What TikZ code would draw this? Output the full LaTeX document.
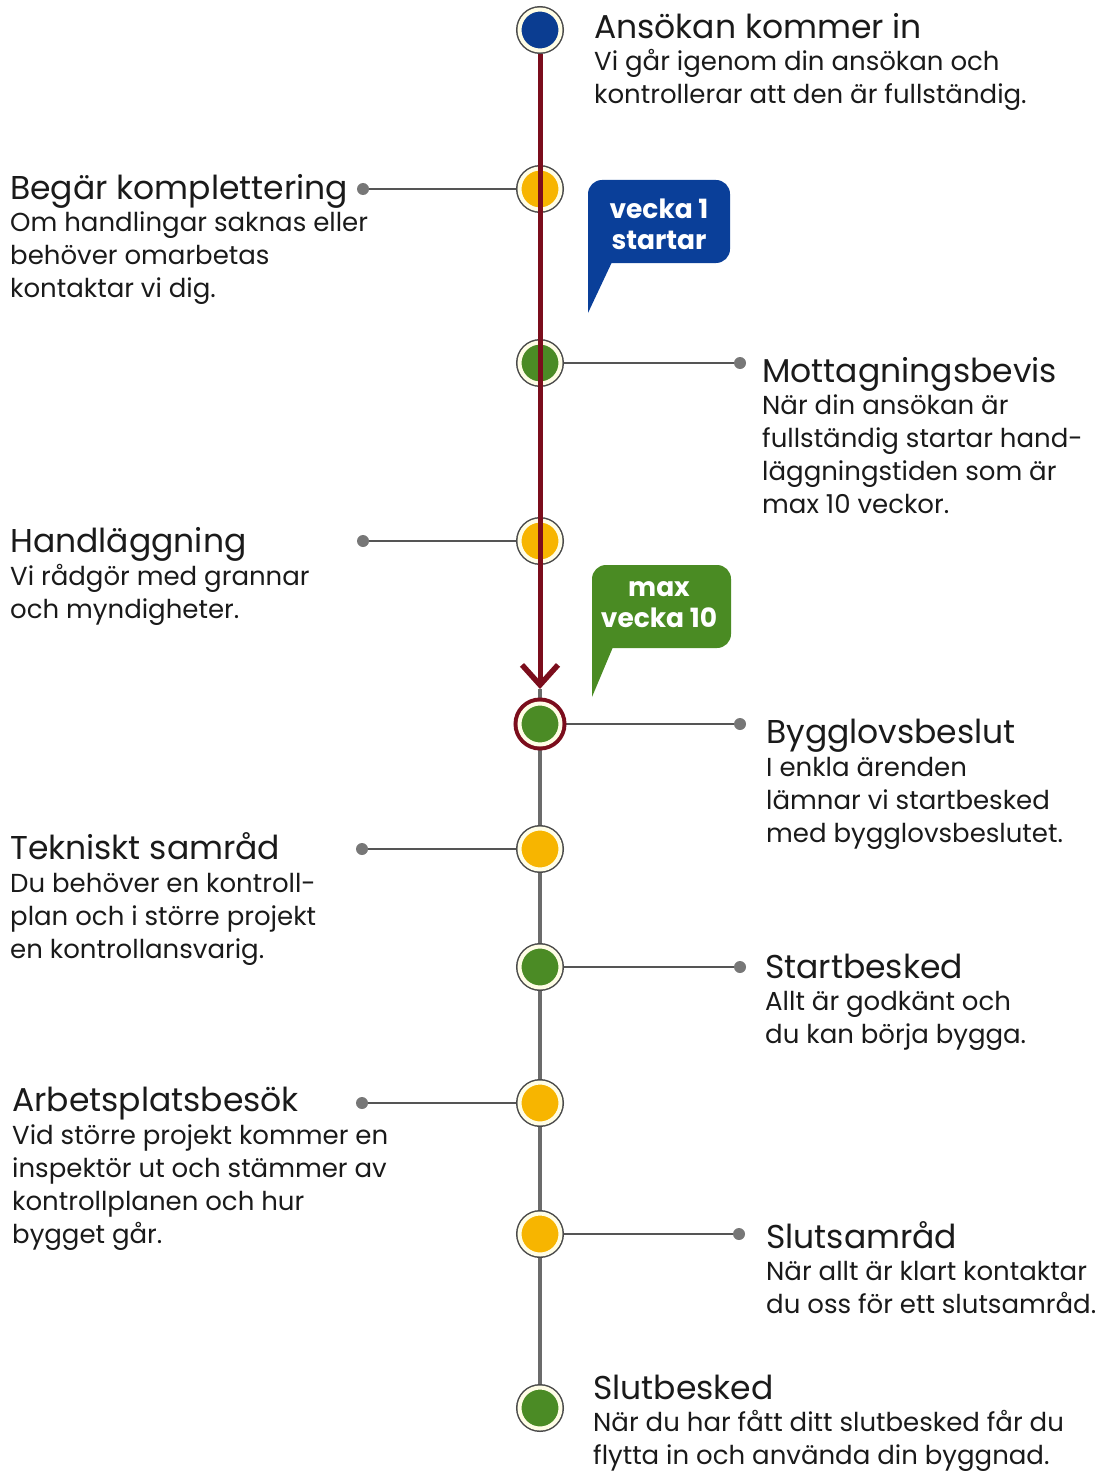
\documentclass[tikz,border=0pt]{standalone}
\usepackage{fontspec}
\setmainfont{Poppins}
\usetikzlibrary{arrows.meta,backgrounds}
\definecolor{nodeblue}{HTML}{0B3D91}
\definecolor{nodeyellow}{HTML}{F7B500}
\definecolor{nodegreen}{HTML}{4B8B25}
\definecolor{cream}{HTML}{FFFDE6}
\definecolor{ringgray}{HTML}{4A4A4A}
\definecolor{darkred}{HTML}{7B0D1C}
\definecolor{linegray}{HTML}{6B6B6B}
\definecolor{conngray}{HTML}{555555}
\definecolor{dotgray}{HTML}{777777}
\definecolor{callblue}{HTML}{0A3F99}
\definecolor{callgreen}{HTML}{4A8B23}
\definecolor{txt}{HTML}{1A1A1A}
\begin{document}
\begin{tikzpicture}[x=1pt,y=-1pt,
  stagebase/.style={circle, minimum size=41pt, inner sep=0pt, outer sep=0pt, line width=4pt, draw=cream},
  stage/.style={stagebase, preaction={draw=ringgray, line width=7pt}},
  bluestage/.style={stage, fill=nodeblue},
  yellowstage/.style={stage, fill=nodeyellow},
  greenstage/.style={stage, fill=nodegreen},
  keystage/.style={stagebase, fill=nodegreen, preaction={draw=darkred, line width=12pt}},
  dotnode/.style={circle, fill=dotgray, minimum size=12pt, inner sep=0pt, outer sep=0pt},
  conn/.style={draw=conngray, line width=1.8pt},
  titletext/.style={anchor=base west, inner sep=0pt, text=txt, font=\fontsize{33}{33}\selectfont},
  bodytext/.style={anchor=base west, inner sep=0pt, align=left, text=txt, font=\fontsize{26}{33}\selectfont},
  calltext/.style={align=center, inner sep=0pt, text=white, font=\bfseries\fontsize{26.5}{31}\selectfont}
]
\useasboundingbox (0,0) rectangle (1098,1471);

% stage circles
\node[bluestage]   (c1)  at (540,30)   {};
\node[yellowstage] (c2)  at (540,189)  {};
\node[greenstage]  (c3)  at (540,363)  {};
\node[yellowstage] (c4)  at (540,541)  {};
\node[keystage]    (c5)  at (540,724)  {};
\node[yellowstage] (c6)  at (540,849)  {};
\node[greenstage]  (c7)  at (540,967)  {};
\node[yellowstage] (c8)  at (540,1103) {};
\node[yellowstage] (c9)  at (540,1234) {};
\node[greenstage]  (c10) at (540,1408) {};

% dots
\node[dotnode] (d2) at (363,189) {};
\node[dotnode] (d3) at (740,363) {};
\node[dotnode] (d4) at (363,541) {};
\node[dotnode] (d5) at (740,724) {};
\node[dotnode] (d6) at (362,849) {};
\node[dotnode] (d7) at (740,967) {};
\node[dotnode] (d8) at (362,1103) {};
\node[dotnode] (d9) at (739,1234) {};

\coordinate (tip) at (540,689);

\begin{scope}[on background layer]
  \draw[draw=linegray, line width=4pt] (tip) -- (c10);
  \draw[conn] (d2) -- (c2);
  \draw[conn] (d3) -- (c3);
  \draw[conn] (d4) -- (c4);
  \draw[conn] (d5) -- (c5);
  \draw[conn] (d6) -- (c6);
  \draw[conn] (d7) -- (c7);
  \draw[conn] (d8) -- (c8);
  \draw[conn] (d9) -- (c9);
\end{scope}

% red timeline arrow
\draw[draw=darkred, line width=5pt, shorten <=4pt,
  -{Straight Barb[length=20pt, width=36pt, line width=5.5pt]}] (c1) -- (tip);

% callouts
\fill[callblue, rounded corners=14pt] (588,180) rectangle (730,263);
\fill[callblue] (588,235) -- (588,313) -- (612,262) -- (620,235) -- cycle;
\node[calltext] (k1) at (659,224) {vecka 1\\startar};

\fill[callgreen, rounded corners=14pt] (592,565) rectangle (731,648);
\fill[callgreen] (592,620) -- (592,697) -- (613,647) -- (620,620) -- cycle;
\node[calltext] (k2) at (659,605) {max\\vecka 10};

% texts (body nodes placed at the baseline of their last line)
\node[titletext] (t1) at (594,39) {Ansökan kommer in};
\node[bodytext]  (b1) at (594,104) {Vi går igenom din ansökan och\\kontrollerar att den är fullständig.};

\node[titletext] (t2) at (10,200) {Begär komplettering};
\node[bodytext]  (b2) at (10,297) {Om handlingar saknas eller\\behöver omarbetas\\kontaktar vi dig.};

\node[titletext] (t3) at (762,382) {Mottagningsbevis};
\node[bodytext]  (b3) at (762,513) {När din ansökan är\\fullständig startar hand-\\läggningstiden som är\\max 10 veckor.};

\node[titletext] (t4) at (10,552) {Handläggning};
\node[bodytext]  (b4) at (10,618) {Vi rådgör med grannar\\och myndigheter.};

\node[titletext] (t5) at (766,743) {Bygglovsbeslut};
\node[bodytext]  (b5) at (766,842) {I enkla ärenden\\lämnar vi startbesked\\med bygglovsbeslutet.};

\node[titletext] (t6) at (10,859) {Tekniskt samråd};
\node[bodytext]  (b6) at (10,958) {Du behöver en kontroll-\\plan och i större projekt\\en kontrollansvarig.};

\node[titletext] (t7) at (765,978) {Startbesked};
\node[bodytext]  (b7) at (765,1043) {Allt är godkänt och\\du kan börja bygga.};

\node[titletext] (t8) at (12,1111) {Arbetsplatsbesök};
\node[bodytext]  (b8) at (12,1243) {Vid större projekt kommer en\\inspektör ut och stämmer av\\kontrollplanen och hur\\bygget går.};

\node[titletext] (t9) at (766,1248) {Slutsamråd};
\node[bodytext]  (b9) at (766,1313) {När allt är klart kontaktar\\du oss för ett slutsamråd.};

\node[titletext] (t10) at (593,1399) {Slutbesked};
\node[bodytext]  (b10) at (593,1464) {När du har fått ditt slutbesked får du\\flytta in och använda din byggnad.};
\end{tikzpicture}
\end{document}
